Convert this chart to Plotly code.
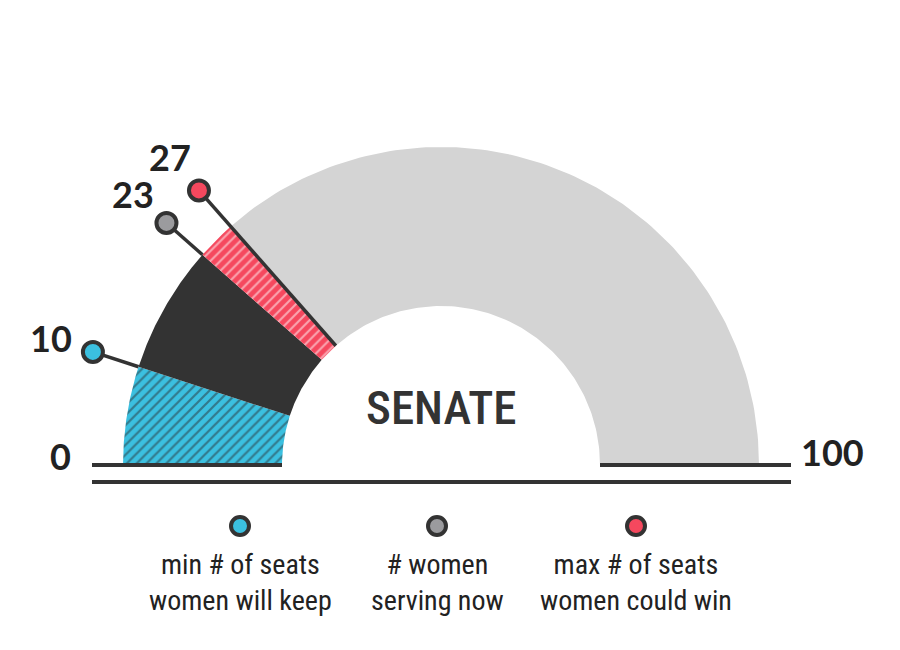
import numpy as np
import plotly.graph_objects as go

# ---------------- data ----------------
scale_min = 0
scale_max = 100
segment_bounds = [0, 10, 23, 27, 100]          # gauge segments (seats)
marker_values = [10, 23, 27]                   # highlighted values
end_labels = ["0", "100"]
center_label = "SENATE"
legend_labels = ["min # of seats<br>women will keep",
                 "# women<br>serving now",
                 "max # of seats<br>women could win"]

# ---------------- styles ----------------
seg_colors = ["#3BC0E0", "#333333", "#F5485E", "#D4D4D4"]
seg_patterns = [dict(shape="/", fgcolor="#2A3338", bgcolor="#3BC0E0", size=7, solidity=0.32),
                None,
                dict(shape="/", fgcolor="#FFFFFF", bgcolor="#F5485E", size=7, solidity=0.3),
                None]
dot_colors = ["#3BC0E0", "#9B9B9E", "#F5485E"]
line_from = ["outer", "outer", "inner"]
DARK = "#333333"

R_OUT, R_IN = 318, 159
R_DOT, R_LAB = 366, 410
NUM_FONT = dict(family="Lato, Roboto, sans-serif", size=36, color="#222222", weight=700)
NARROW = "Roboto Condensed, Liberation Sans Narrow, DejaVu Sans Condensed, Liberation Sans, sans-serif"


def theta(v):
    return np.pi * (1 - (v - scale_min) / (scale_max - scale_min))


fig = go.Figure()

# gauge segments
for i in range(len(segment_bounds) - 1):
    a, b = segment_bounds[i], segment_bounds[i + 1]
    t = np.linspace(theta(a), theta(b), 120)
    xs = np.concatenate([R_OUT * np.cos(t), R_IN * np.cos(t[::-1])])
    ys = np.concatenate([R_OUT * np.sin(t), R_IN * np.sin(t[::-1])])
    kw = dict(x=xs, y=ys, mode="lines", fill="toself", line=dict(width=0, color=seg_colors[i]),
              fillcolor=seg_colors[i], hoverinfo="skip", showlegend=False)
    if seg_patterns[i] is not None:
        kw["fillpattern"] = seg_patterns[i]
    fig.add_trace(go.Scatter(**kw))

# baselines
fig.add_trace(go.Scatter(x=[-(R_OUT + 31), -R_IN, None, R_IN, R_OUT + 32],
                         y=[0, 0, None, 0, 0], mode="lines",
                         line=dict(color=DARK, width=4), hoverinfo="skip", showlegend=False))
fig.add_trace(go.Scatter(x=[-(R_OUT + 31), R_OUT + 32], y=[-17, -17], mode="lines",
                         line=dict(color=DARK, width=4), hoverinfo="skip", showlegend=False))

# connector lines, dots, value labels
for v, c, lf in zip(marker_values, dot_colors, line_from):
    t = theta(v)
    r0 = R_OUT if lf == "outer" else R_IN
    fig.add_trace(go.Scatter(x=[r0 * np.cos(t), R_DOT * np.cos(t)], y=[r0 * np.sin(t), R_DOT * np.sin(t)],
                             mode="lines", line=dict(color=DARK, width=3.5),
                             hoverinfo="skip", showlegend=False))
    fig.add_trace(go.Scatter(x=[R_DOT * np.cos(t)], y=[R_DOT * np.sin(t)], mode="markers",
                             marker=dict(size=20, color=c, line=dict(color=DARK, width=4)),
                             hoverinfo="skip", showlegend=False))
    fig.add_annotation(x=R_LAB * np.cos(t), y=R_LAB * np.sin(t), text=str(v), showarrow=False,
                       font=NUM_FONT, xanchor="center", yanchor="middle")

# end labels
fig.add_annotation(x=-(R_OUT + 63), y=9, text=end_labels[0], showarrow=False, font=NUM_FONT,
                   xanchor="center", yanchor="middle")
fig.add_annotation(x=R_OUT + 73, y=13, text=end_labels[1], showarrow=False, font=NUM_FONT,
                   xanchor="center", yanchor="middle")

# center label
fig.add_annotation(x=0, y=58, text=center_label, showarrow=False,
                   font=dict(family=NARROW, size=47, color=DARK, weight=500),
                   xanchor="center", yanchor="middle")

# legend
leg_x = [-201, -4, 195]
fig.add_trace(go.Scatter(x=leg_x, y=[-61] * 3, mode="markers",
                         marker=dict(size=18, color=dot_colors, line=dict(color=DARK, width=4)),
                         hoverinfo="skip", showlegend=False))
for x, lab in zip(leg_x, legend_labels):
    fig.add_annotation(x=x, y=-117, text=lab, showarrow=False,
                       font=dict(family=NARROW, size=28, color="#222222", weight=400),
                       xanchor="center", yanchor="middle")

# page body has an 8px margin: shift the plotting window so the chart lands in place
fig.update_layout(
    width=892, height=642,
    margin=dict(l=0, r=0, t=0, b=0),
    paper_bgcolor="white", plot_bgcolor="white",
    xaxis=dict(range=[-433, 459], visible=False, fixedrange=True),
    yaxis=dict(range=[-185, 457], visible=False, fixedrange=True),
    hovermode=False,
)

fig.write_html("out.html")
